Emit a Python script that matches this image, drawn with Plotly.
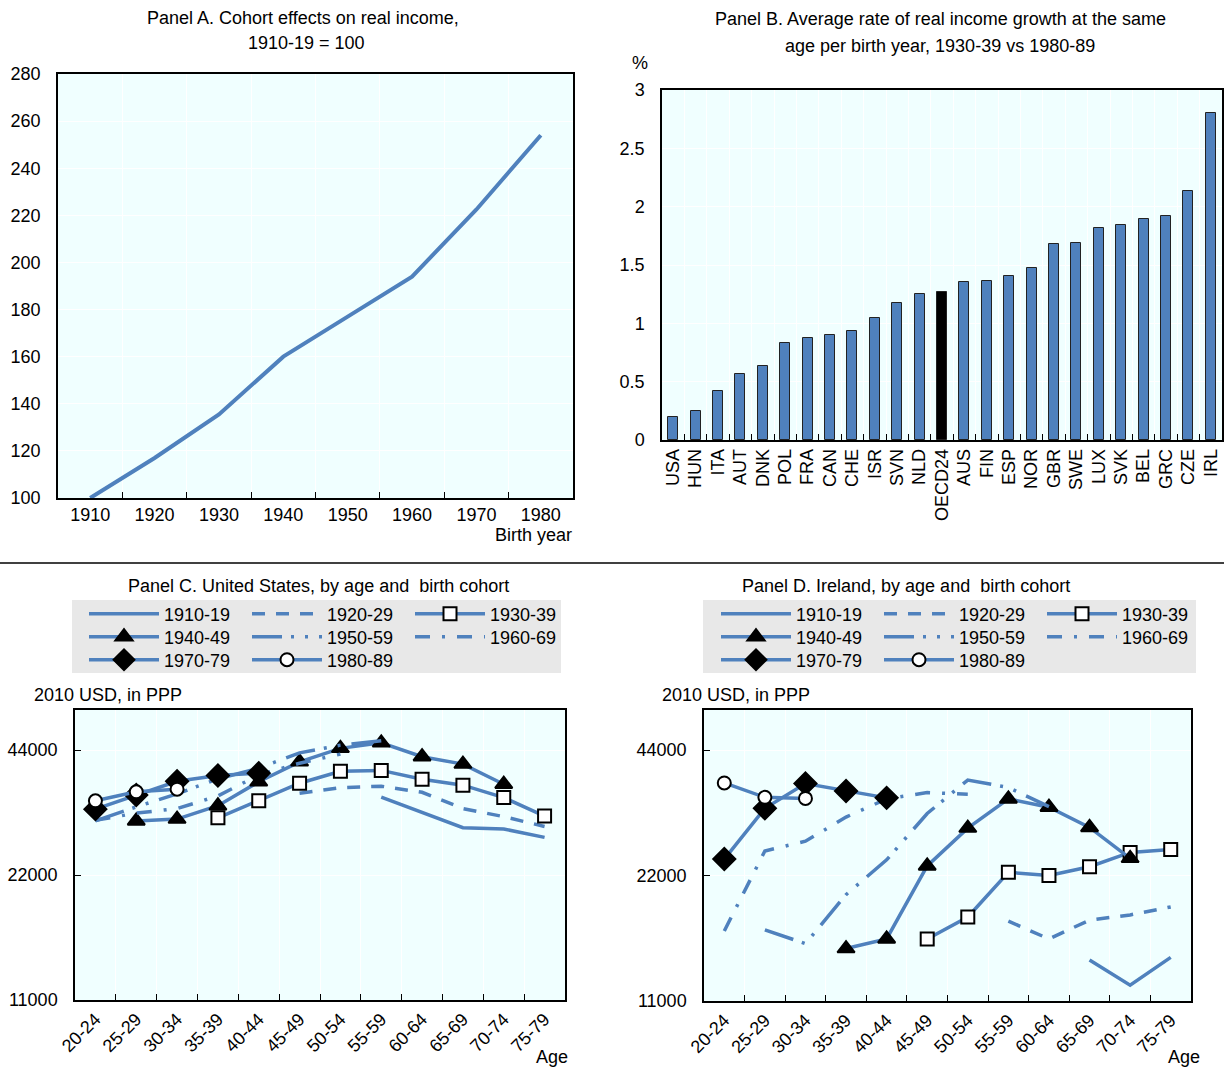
import plotly.graph_objects as go

# ---------------------------------------------------------------- data
# Panel A: cohort effects on real income (1910-19 = 100)
birth_years = ["1910", "1920", "1930", "1940", "1950", "1960", "1970", "1980"]
cohort_effect = [100, 117, 135.5, 160, 177, 194, 222.5, 254]

# Panel B: average annual real income growth at the same age, 1930-39 vs 1980-89 (%)
countries = ["USA", "HUN", "ITA", "AUT", "DNK", "POL", "FRA", "CAN", "CHE", "ISR",
             "SVN", "NLD", "OECD24", "AUS", "FIN", "ESP", "NOR", "GBR", "SWE", "LUX",
             "SVK", "BEL", "GRC", "CZE", "IRL"]
growth_rate = [0.20, 0.25, 0.42, 0.566, 0.637, 0.829, 0.874, 0.903, 0.937, 1.046,
               1.171, 1.251, 1.271, 1.357, 1.363, 1.409, 1.474, 1.677, 1.689, 1.814,
               1.84, 1.897, 1.92, 2.137, 2.80]

# Panels C and D: income by age group and birth cohort (2010 USD, PPP)
age_groups = ["20-24", "25-29", "30-34", "35-39", "40-44", "45-49",
              "50-54", "55-59", "60-64", "65-69", "70-74", "75-79"]
cohort_labels = ["1910-19", "1920-29", "1930-39", "1940-49",
                 "1950-59", "1960-69", "1970-79", "1980-89"]

N = None
usa_1910 = [N, N, N, N, N, N, N, 33900, 31100, 28600, 28400, 27100]
usa_1920 = [N, N, N, N, N, 34600, 35700, 36000, 34800, 31800, 30400, 28800]
usa_1930 = [N, N, N, 30200, 33200, 36600, 39100, 39300, 37400, 36200, 33800, 30500]
usa_1940 = [N, 29700, 30000, 32300, 36900, 41200, 44400, 45800, 42400, 40700, 36400, N]
usa_1950 = [29700, 32100, 34500, 37500, 39800, 43300, 45200, 46300, N, N, N, N]
usa_1960 = [29800, 31000, 31800, 34100, 38300, 40900, 43000, N, N, N, N, N]
usa_1970 = [31700, 34300, 37000, 38200, 38700, N, N, N, N, N, N, N]
usa_1980 = [33200, 34900, 35400, N, N, N, N, N, N, N, N, N]

irl_1910 = [N, N, N, N, N, N, N, N, N, 13800, 12000, 14000]
irl_1920 = [N, N, N, N, N, N, N, 17100, 15500, 17200, 17700, 18500]
irl_1930 = [N, N, N, N, N, 15500, 17500, 22400, 22000, 23100, 25000, 25400]
irl_1940 = [N, N, N, 14700, 15500, 23200, 28600, 33600, 32100, 28700, 24200, N]
irl_1950 = [N, 16300, 15100, 19800, 24000, 31000, 37300, 35800, 32200, N, N, N]
irl_1960 = [16200, 25200, 26600, 30400, 33600, 34800, 34500, N, N, N, N, N]
irl_1970 = [24100, 31900, 36600, 35100, 33800, N, N, N, N, N, N, N]
irl_1980 = [36700, 33900, 33700, N, N, N, N, N, N, N, N, N]

income_ticks = [11000, 22000, 44000]

# ---------------------------------------------------------------- styling
W, H = 1224, 1069
FONT = "Liberation Sans, Arial, sans-serif"
FS = 18
BLUE = "#4F81BD"
PLOT_BG = "#F0FFFF"
LW = 3.5


def px(x):
    return x / W


def py(y):
    return 1 - y / H


cohort_styles = [
    dict(dash="solid", symbol=None),
    dict(dash="13px,11px", symbol=None),
    dict(dash="solid", symbol="square", fill="white", size=13),
    dict(dash="solid", symbol="triangle-up", fill="black", size=15),
    dict(dash="30px,9px,3px,11px,3px,11px", symbol=None),
    dict(dash="15px,12px,3px,12px", symbol=None),
    dict(dash="solid", symbol="diamond", fill="black", size=17),
    dict(dash="solid", symbol="circle", fill="white", size=13),
]

fig = go.Figure()

# Panel A line
fig.add_trace(go.Scatter(
    x=birth_years, y=cohort_effect, mode="lines",
    line=dict(color=BLUE, width=4), xaxis="x", yaxis="y", showlegend=False,
))

# Panel B bars
bar_colors = ["black" if c == "OECD24" else BLUE for c in countries]
fig.add_trace(go.Bar(
    x=countries, y=growth_rate, width=0.45,
    marker=dict(color=bar_colors, line=dict(color="#222222", width=1)),
    xaxis="x2", yaxis="y2", showlegend=False,
))


def add_cohort_panel(series, xa, ya, legends):
    for i, (label, vals) in enumerate(zip(cohort_labels, series)):
        st = cohort_styles[i]
        kw = dict(
            x=age_groups, y=vals, name=label, xaxis=xa, yaxis=ya,
            legend=legends[i // 3],
            line=dict(color=BLUE, width=LW, dash=st["dash"]),
            connectgaps=False,
        )
        if st["symbol"]:
            kw["mode"] = "lines+markers"
            kw["marker"] = dict(symbol=st["symbol"], size=st["size"], color=st["fill"],
                                line=dict(color="black", width=2))
        else:
            kw["mode"] = "lines"
        fig.add_trace(go.Scatter(**kw))


add_cohort_panel([usa_1910, usa_1920, usa_1930, usa_1940, usa_1950, usa_1960, usa_1970, usa_1980],
                 "x3", "y3", ["legend", "legend2", "legend3"])
add_cohort_panel([irl_1910, irl_1920, irl_1930, irl_1940, irl_1950, irl_1960, irl_1970, irl_1980],
                 "x4", "y4", ["legend4", "legend5", "legend6"])

tickfont = dict(family=FONT, size=FS, color="black")
frame = dict(showline=True, linecolor="black", linewidth=1.5, mirror=True,
             gridcolor="white", gridwidth=1, tickfont=tickfont, zeroline=False,
             automargin=False)

log_lo, log_hi = 4.04139, 4.7398

layout = dict(
    width=W, height=H,
    margin=dict(l=0, r=0, t=0, b=0, pad=0, autoexpand=False),
    paper_bgcolor="white", plot_bgcolor=PLOT_BG,
    font=dict(family=FONT, size=FS, color="black"),
    bargap=0,
    # Panel A
    xaxis=dict(frame, domain=[px(58), px(573)], anchor="y", type="category",
               tickson="boundaries", ticks="inside", ticklen=6, tickcolor="black",
               showgrid=True, tickangle=0, range=[-0.5, 7.5]),
    yaxis=dict(frame, domain=[py(498), py(74)], anchor="x", range=[100, 280], dtick=20,
               ticks="", showgrid=True, ticklabelstandoff=12),
    # Panel B
    xaxis2=dict(frame, domain=[px(662), px(1222)], anchor="y2", type="category",
                tickson="boundaries", ticks="inside", ticklen=6, tickcolor="black",
                showgrid=True, tickangle=-90, range=[-0.5, 24.5]),
    yaxis2=dict(frame, domain=[py(440), py(90)], anchor="x2", range=[0, 3], dtick=0.5,
                ticks="", showgrid=True, ticklabelstandoff=12),
    # Panel C
    xaxis3=dict(frame, domain=[px(75), px(565)], anchor="y3", type="category",
                categoryorder="array", categoryarray=age_groups,
                tickson="boundaries", ticks="inside", ticklen=6, tickcolor="black",
                showgrid=True, tickangle=-45, range=[-0.5, 11.5]),
    yaxis3=dict(frame, domain=[py(1000), py(710)], anchor="x3", type="log",
                range=[log_lo, log_hi], tickvals=income_ticks,
                ticktext=[str(v) for v in income_ticks],
                ticks="inside", ticklen=6, tickcolor="black", showgrid=True,
                ticklabelstandoff=12),
    # Panel D
    xaxis4=dict(frame, domain=[px(704), px(1191)], anchor="y4", type="category",
                categoryorder="array", categoryarray=age_groups,
                tickson="boundaries", ticks="inside", ticklen=6, tickcolor="black",
                showgrid=True, tickangle=-45, range=[-0.5, 11.5]),
    yaxis4=dict(frame, domain=[py(1001), py(710)], anchor="x4", type="log",
                range=[log_lo, log_hi], tickvals=income_ticks,
                ticktext=[str(v) for v in income_ticks],
                ticks="inside", ticklen=6, tickcolor="black", showgrid=True,
                ticklabelstandoff=12),
)

# legends: one per row, three rows per panel
row_y = [614, 637, 660]
for p, x0 in enumerate([84, 716]):
    for r in range(3):
        key = "legend" if (p == 0 and r == 0) else f"legend{p * 3 + r + 1}"
        layout[key] = dict(
            x=px(x0), xanchor="left", y=py(row_y[r]), yanchor="middle",
            orientation="h", entrywidth=78, entrywidthmode="pixels",
            itemwidth=70, bgcolor="rgba(0,0,0,0)", borderwidth=0,
            font=dict(family=FONT, size=FS, color="black"),
            tracegroupgap=0, itemclick=False, itemdoubleclick=False,
        )

fig.update_layout(**layout)

# grey legend boxes and separator line
for x0, x1 in [(72, 561), (703, 1196)]:
    fig.add_shape(type="rect", xref="paper", yref="paper",
                  x0=px(x0), x1=px(x1), y0=py(673), y1=py(600),
                  fillcolor="#E8E8E8", line=dict(width=0), layer="below")
fig.add_shape(type="line", xref="paper", yref="paper",
              x0=0, x1=1, y0=py(563), y1=py(563),
              line=dict(color="black", width=1.5))


def note(text, x, y, xanchor="center"):
    fig.add_annotation(text=text, x=px(x), y=py(y), xref="paper", yref="paper",
                       xanchor=xanchor, yanchor="middle", showarrow=False,
                       font=dict(family=FONT, size=FS, color="black"))


note("Panel A. Cohort effects on real income,", 303, 18)
note("1910-19 = 100", 306, 43)
note("Birth year", 533, 535)
note("Panel B. Average rate of real income growth at the same", 940, 19)
note("age per birth year, 1930-39 vs 1980-89", 940, 46)
note("%", 640, 63)
note("Panel C. United States, by age and  birth cohort", 318, 586)
note("Panel D. Ireland, by age and  birth cohort", 906, 586)
note("2010 USD, in PPP", 32, 695, "left")
note("2010 USD, in PPP", 660, 695, "left")
note("Age", 552, 1057)
note("Age", 1184, 1057)

fig.write_html("out.html")
